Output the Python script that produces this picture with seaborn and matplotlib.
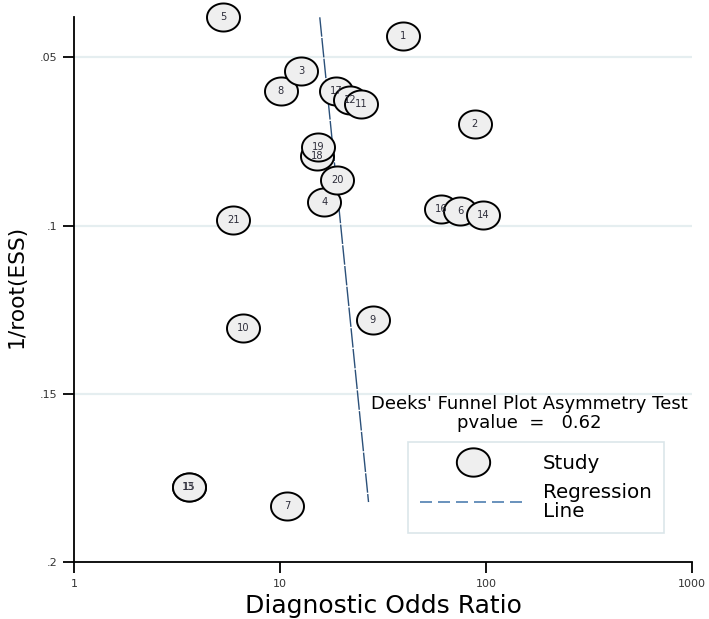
import numpy as np
import pandas as pd
import matplotlib
matplotlib.use("Agg")
import matplotlib.pyplot as plt
from matplotlib.path import Path
from matplotlib.lines import Line2D
import seaborn as sns

# ---- data ----
study = [str(i) for i in range(1, 22)]
dor = [39.5, 88.1, 12.7, 16.4, 5.29, 74.8, 10.8, 10.1, 28.2, 6.63,
       24.8, 21.9, 3.60, 97.0, 3.62, 60.5, 18.7, 15.1, 15.3, 19.0, 5.94]
inv_root_ess = [0.0437, 0.0699, 0.0541, 0.0929, 0.0381, 0.0955, 0.1834, 0.0601,
                0.1280, 0.1305, 0.0640, 0.0628, 0.1776, 0.0967, 0.1776, 0.0950,
                0.0600, 0.0793, 0.0766, 0.0863, 0.0982]
reg_dor = [15.6, 26.9]
reg_y = [0.0381, 0.1821]
x_ticks = [1, 10, 100, 1000]
x_ticklabels = ["1", "10", "100", "1000"]
y_ticks = [0.05, 0.10, 0.15, 0.20]
y_ticklabels = [".05", ".1", ".15", ".2"]
pvalue = 0.62

sns.set_theme(style="white")
plt.rcParams["font.family"] = ["DejaVu Sans"]
plt.rcParams["text.color"] = "black"
plt.rcParams["axes.labelcolor"] = "black"

W, H = 709, 619
fig = plt.figure(figsize=(W / 100, H / 100), dpi=100)
fig.patch.set_facecolor("white")
x0, x1 = 74, 692
y0, y1 = 17.3, 562.3
ax = fig.add_axes([x0 / W, 1 - y1 / H, (x1 - x0) / W, (y1 - y0) / H])
ax.set_facecolor("white")

# ellipse marker (circles appear horizontally stretched)
t = np.linspace(0, 2 * np.pi, 80)
ell = Path(np.column_stack([np.cos(t), 0.85 * np.sin(t)]), closed=True)

df = pd.DataFrame({"study": study, "dor": dor, "y": inv_root_ess}).sort_values("dor")

ax.set_xscale("log")
ax.yaxis.grid(True, color="#e5eef0", lw=1.6, zorder=0)
ax.xaxis.grid(False)

sns.lineplot(x=reg_dor, y=reg_y, ax=ax, color="#2b5079", lw=1.0,
             linestyle=(0, (14, 1.0)), zorder=2, sort=False)
sns.scatterplot(data=df, x="dor", y="y", marker=ell, s=565, color="#efefef",
                edgecolor="black", linewidth=1.4, ax=ax, legend=False,
                zorder=3, clip_on=False)
for _, r in df.iterrows():
    ax.text(r["dor"], r["y"], r["study"], ha="center", va="center",
            fontsize=7.1, color="#2d2d3a", zorder=5, clip_on=False)

ax.set_xlim(1, 1000)
ax.set_ylim(0.2, 0.0381)
ax.set_xticks(x_ticks)
ax.set_xticklabels(x_ticklabels)
ax.set_yticks(y_ticks)
ax.set_yticklabels(y_ticklabels)
ax.minorticks_off()
ax.tick_params(axis="both", direction="out", length=8, width=1.3, color="black",
               labelsize=8, labelcolor="#333333", pad=4, left=True, bottom=True)
for s in ["top", "right"]:
    ax.spines[s].set_visible(False)
for s in ["left", "bottom"]:
    ax.spines[s].set_color("black")
    ax.spines[s].set_linewidth(1.3)

ax.set_xlabel("Diagnostic Odds Ratio", fontsize=18, color="black")
ax.set_ylabel("1/root(ESS)", fontsize=15.7, color="black")
ax.xaxis.set_label_coords(0.5, -(594 - y1) / (y1 - y0))
ax.yaxis.set_label_coords(-(74 - 27) / (x1 - x0), 1 - (286 - y0) / (y1 - y0))

fig.text(529 / W, 1 - 404 / H, "Deeks' Funnel Plot Asymmetry Test",
         ha="center", va="center", fontsize=13, color="black")
fig.text(529 / W, 1 - 423 / H, f"pvalue  =   {pvalue:.2f}",
         ha="center", va="center", fontsize=13, color="black")

handles = [
    Line2D([], [], marker=ell, markersize=24, markerfacecolor="#efefef",
           markeredgecolor="black", markeredgewidth=1.4, linestyle="none"),
    Line2D([], [], color="#4f7fb0", lw=1.2, linestyle=(0, (7.2, 3.6))),
]
leg = ax.legend(handles, ["Study", "Regression\nLine"], loc="upper left",
                bbox_to_anchor=(408 / W, 1 - 442 / H), bbox_transform=fig.transFigure,
                frameon=True, fancybox=False, edgecolor="#dbe6ea", framealpha=1,
                fontsize=14.3, handlelength=5.3, handletextpad=0.9, borderpad=0.6,
                labelspacing=0.5, borderaxespad=0, labelcolor="black")
leg.get_frame().set_linewidth(1.2)
for tx in leg.get_texts():
    tx.set_linespacing(1.0)

fig.savefig("out.png", dpi=100, facecolor="white")
